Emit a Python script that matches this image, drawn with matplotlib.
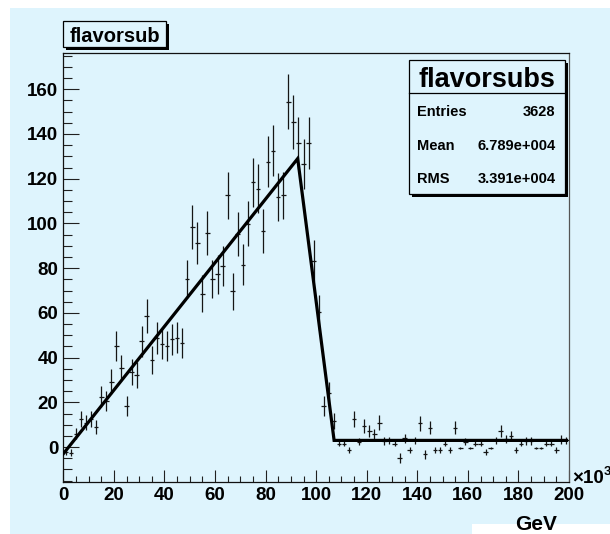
import numpy as np
import matplotlib
matplotlib.use("Agg")
import matplotlib.pyplot as plt
from matplotlib.patches import Rectangle
from matplotlib.lines import Line2D
from matplotlib.ticker import MultipleLocator

# ---- histogram "flavorsubs": 100 bins of width 2 (x10^3 GeV) ----
bin_width = 2.0
bin_centers = np.arange(1, 200, 2)
counts = [
    -2.0, -2.5, 6.0, 12.6, 11.0, 12.4, 9.0, 22.6, 20.6, 29.3,
    45.3, 35.3, 18.4, 33.8, 32.3, 47.3, 58.5, 38.9, 48.8, 46.1,
    45.3, 48.3, 49.0, 46.5, 75.2, 98.5, 91.3, 68.5, 95.7, 75.2,
    77.2, 80.8, 112.6, 69.7, 95.4, 81.6, 99.9, 118.4, 115.6, 96.6,
    127.6, 132.5, 111.8, 112.6, 154.5, 145.3, 135.8, 126.5, 135.8, 83.4,
    60.3, 18.4, 24.0, 11.7,
    1.5, 1.5, -1.3, 12.4, 2.4, 9.4, 7.2, 5.7, 10.9, 2.7,
    3.0, 1.5, -5.0, 3.9, -1.3, 3.0, 10.6, -3.3, 8.7, -1.3,
    -1.3, 1.5, -1.3, 8.7, -0.3, 2.4, -0.3, 1.5, 1.5, -2.2,
    -0.3, 3.0, 7.2, 3.5, 4.9, -1.3, 1.5, 2.7, 2.7, -0.3,
    -0.3, 1.5, 1.5, -1.3, 3.4, 3.0,
]

# piecewise-linear fit drawn over the histogram
fit_x = [0.0, 92.7, 107.1, 199.0]
fit_y = [-3.0, 129.0, 3.0, 3.0]

# statistics box
stats_name = "flavorsubs"
stats_rows = [("Entries", "3628"), ("Mean", "6.789e+004"), ("RMS", "3.391e+004")]
hist_title = "flavorsub"
x_title = "GeV"

x_ticks = list(range(0, 201, 20))
y_ticks = list(range(0, 161, 20))

W, H = 610, 534
BG = "#def4fd"
FONT = "Liberation Sans"


def fx(px):
    return px / W


def fy(py):
    return 1.0 - py / H


fig = plt.figure(figsize=(W / 100, H / 100), dpi=100)
fig.patch.set_facecolor("white")

# canvas fill
fig.patches.append(Rectangle((fx(10), 0), 1 - fx(10), fy(7.5), transform=fig.transFigure,
                             facecolor=BG, edgecolor="none", zorder=-10))
fig.patches.append(Rectangle((fx(472), 0), 1 - fx(472), fy(524), transform=fig.transFigure,
                             facecolor="white", edgecolor="none", zorder=-9))

ax = fig.add_axes([fx(63.3), fy(482), fx(569) - fx(63.3), fy(53) - fy(482)])
ax.set_zorder(1)
ax.set_facecolor("none")

vals = np.asarray(counts)
errs = np.sqrt(np.abs(vals))
ax.errorbar(bin_centers, vals, yerr=errs, xerr=0.45 * bin_width, fmt="none",
            ecolor="#151515", elinewidth=0.9, capsize=0, zorder=3)
ax.plot(fit_x, fit_y, color="black", lw=2.3, solid_joinstyle="miter", zorder=4)

ax.set_xlim(0, 200)
ax.set_ylim(-15.6, 176.2)
ax.set_xticks(x_ticks)
ax.set_yticks(y_ticks)
ax.xaxis.set_minor_locator(MultipleLocator(5))
ax.yaxis.set_minor_locator(MultipleLocator(5))
ax.tick_params(axis="x", which="major", direction="in", length=8.6, width=0.8,
               top=False, pad=3.5, labelsize=13.5, color="#202020")
ax.tick_params(axis="x", which="minor", direction="in", length=4.3, width=0.8,
               top=False, color="#202020")
ax.tick_params(axis="y", which="major", direction="in", length=11.5, width=0.8,
               right=False, pad=3.5, labelsize=13.5, color="#202020")
ax.tick_params(axis="y", which="minor", direction="in", length=6.3, width=0.8,
               right=False, color="#202020")
for lab in ax.get_xticklabels() + ax.get_yticklabels():
    lab.set_fontfamily(FONT)
    lab.set_fontweight("bold")
for side in ["left", "bottom", "top"]:
    ax.spines[side].set_linewidth(0.9)
    ax.spines[side].set_color("#111111")
ax.spines["right"].set_linewidth(0.9)
ax.spines["right"].set_color("#555555")

# exponent of the x axis and its title
fig.text(fx(572), fy(483), "\u00d710", fontsize=13.5, fontweight="bold", family=FONT,
         ha="left", va="baseline")
fig.text(fx(604), fy(475), "3", fontsize=9.5, fontweight="bold", family=FONT,
         ha="left", va="baseline")
fig.text(fx(557), fy(530), x_title, fontsize=15, fontweight="bold", family=FONT,
         ha="right", va="baseline")


def shadow_box(x0, y0, x1, y1, shadow=2.6):
    fig.patches.append(Rectangle((fx(x0 + shadow), fy(y1 + shadow)),
                                 fx(x1 - x0), fy(y0) - fy(y1), transform=fig.transFigure,
                                 facecolor="black", edgecolor="none", zorder=5))
    fig.patches.append(Rectangle((fx(x0), fy(y1)), fx(x1 - x0), fy(y0) - fy(y1),
                                 transform=fig.transFigure, facecolor=BG,
                                 edgecolor="black", lw=0.9, zorder=6))


# histogram title box
shadow_box(63, 21, 166, 47)
fig.text(fx(114.5), fy(41.7), hist_title, fontsize=14.5, fontweight="bold", family=FONT,
         ha="center", va="baseline", zorder=7)

# statistics box
shadow_box(409, 60, 565, 194)
fig.lines.append(Line2D([fx(409), fx(565)], [fy(92.7), fy(92.7)], transform=fig.transFigure,
                        color="black", lw=0.9, zorder=7))
fig.text(fx(487), fy(87.3), stats_name, fontsize=19.5, fontweight="bold", family=FONT,
         ha="center", va="baseline", zorder=7)
for (name, value), base in zip(stats_rows, [116, 150, 183.3]):
    fig.text(fx(416.7), fy(base), name, fontsize=10.5, fontweight="bold", family=FONT,
             ha="left", va="baseline", zorder=7)
    fig.text(fx(555.7), fy(base), value, fontsize=10.5, fontweight="bold", family=FONT,
             ha="right", va="baseline", zorder=7)

fig.savefig("out.png", dpi=100, facecolor=fig.get_facecolor())
